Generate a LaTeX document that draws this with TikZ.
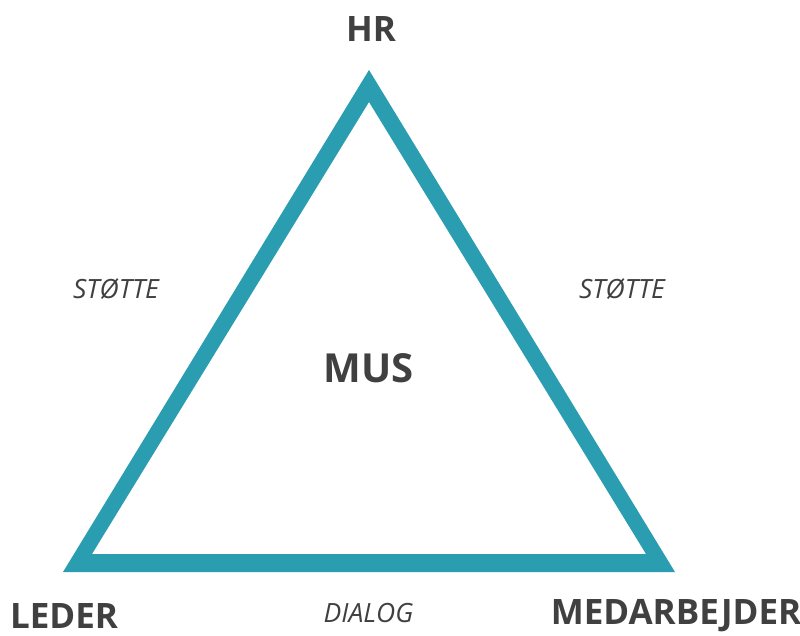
\documentclass[tikz,border=0pt]{standalone}
\usepackage{fontspec}
\setmainfont{Open Sans}
\definecolor{teal1}{HTML}{2A9DB0}
\definecolor{txt}{HTML}{404040}
\begin{document}
\begin{tikzpicture}[x=1pt,y=-1pt,
  lbl/.style={text=txt,font=\bfseries\fontsize{35}{40}\selectfont,inner sep=0pt,anchor=center},
  side/.style={text=txt,font=\itshape\fontsize{26.5}{30}\selectfont,inner sep=0pt,anchor=center}]
\useasboundingbox (0,0) rectangle (800,635);
\coordinate (A) at (369,70);
\coordinate (B) at (63,572);
\coordinate (C) at (675,572);
\coordinate (Ai) at (369,102);
\coordinate (Bi) at (92,554);
\coordinate (Ci) at (646,554);
\fill[teal1,even odd rule] (A) -- (B) -- (C) -- cycle (Ai) -- (Bi) -- (Ci) -- cycle;
\node[lbl] (hr) at (371,29) {HR};
\node[lbl,font=\bfseries\fontsize{40}{46}\selectfont] (mus) at (368.5,368) {MUS};
\node[lbl] (leder) at (64,616) {LEDER};
\node[lbl] (med) at (676,616) {MEDARBEJDER};
\node[side] (s1) at (116,289) {STØTTE};
\node[side] (s2) at (622,289) {STØTTE};
\node[side] (dia) at (368.5,613) {DIALOG};
\end{tikzpicture}
\end{document}
